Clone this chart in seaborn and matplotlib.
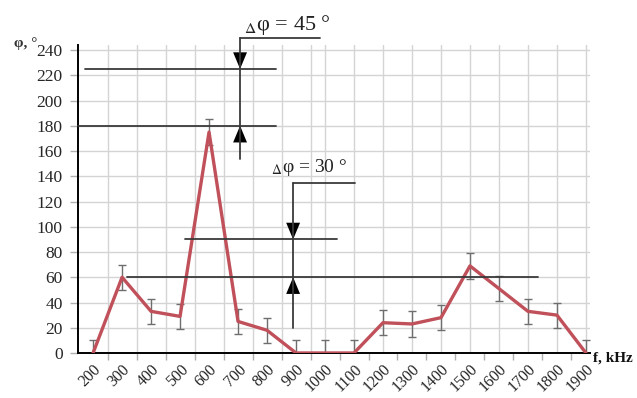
import matplotlib
matplotlib.use("Agg")
import matplotlib.pyplot as plt
import seaborn as sns
import pandas as pd

# Phase response vs frequency
freq_khz = [200, 300, 400, 500, 600, 700, 800, 900, 1000, 1100,
            1200, 1300, 1400, 1500, 1600, 1700, 1800, 1900]
phase_deg = [0, 60, 33, 29, 175, 25, 18, 0, 0, 0,
             24, 23, 28, 69, 51, 33, 30, 0]
phase_err = [10, 10, 10, 10, 10, 10, 10, 10, 10, 10,
             10, 10, 10, 10, 10, 10, 10, 10]
y_ticks = [0, 20, 40, 60, 80, 100, 120, 140, 160, 180, 200, 220, 240]

# Phase-shift reference levels
shift_45_levels = [180, 225]
shift_30_levels = [60, 90]

df = pd.DataFrame({"f": freq_khz, "phi": phase_deg, "err": phase_err})

sns.set_theme(style="white")
plt.rcParams["font.family"] = ["Liberation Serif", "DejaVu Serif"]
plt.rcParams["mathtext.fontset"] = "stix"

fig = plt.figure(figsize=(6.37, 3.98), dpi=100)
ax = fig.add_axes([78 / 637, 45 / 398, 512 / 637, 308 / 398])

ax.set_xlim(148, 1914)
ax.set_ylim(0, 244)

# light background grid
grid_kw = dict(color="#d4d4d4", lw=1.0, zorder=0)
for yv in y_ticks[1:]:
    ax.axhline(yv, **grid_kw)
for xv in list(range(250, 1000, 100)) + list(range(1000, 2000, 100)):
    ax.axvline(xv, **grid_kw)

# measured curve and its error bars
ax.errorbar(df["f"], df["phi"], yerr=df["err"], fmt="none",
            ecolor="#6e6e6e", elinewidth=1.0, capsize=3, capthick=1.0, zorder=2)
sns.lineplot(data=df, x="f", y="phi", color="#c0505a", lw=2.4,
             ax=ax, zorder=3)

# level lines for the 45 degree shift
line_kw = dict(color="#3a3a3a", lw=1.3, zorder=4, clip_on=False)
ax.plot([148, 831], [shift_45_levels[0]] * 2, **line_kw)
ax.plot([172, 831], [shift_45_levels[1]] * 2, **line_kw)
ax.plot([707, 707], [154, 249.5], **line_kw)
ax.plot([707, 983], [249.5, 249.5], **line_kw)
arr_kw = dict(arrowstyle="-|>,head_length=1.2,head_width=0.5",
              color="black", lw=0, mutation_scale=10, shrinkA=0, shrinkB=0)
ax.annotate("", xy=(707, shift_45_levels[1]), xytext=(707, 240),
            arrowprops=arr_kw, annotation_clip=False)
ax.annotate("", xy=(707, shift_45_levels[0]), xytext=(707, 165),
            arrowprops=arr_kw, annotation_clip=False)
ax.text(722, 256, r"$_\Delta$φ = 45 °", fontsize=16, ha="left",
        va="baseline", color="#222222", clip_on=False)

# level lines for the 30 degree shift
ax.plot([317, 1734], [shift_30_levels[0]] * 2, **line_kw)
ax.plot([517, 1041], [shift_30_levels[1]] * 2, **line_kw)
ax.plot([890, 890], [20, 135], **line_kw)
ax.plot([890, 1103], [135, 135], **line_kw)
ax.annotate("", xy=(890, shift_30_levels[1]), xytext=(890, 105),
            arrowprops=arr_kw, annotation_clip=False)
ax.annotate("", xy=(890, shift_30_levels[0]), xytext=(890, 45),
            arrowprops=arr_kw, annotation_clip=False)
ax.text(815, 143, r"$_\Delta$φ = 30 °", fontsize=14, ha="left",
        va="baseline", color="#222222")

# axes styling
for side in ("top", "right"):
    ax.spines[side].set_visible(False)
for side in ("left", "bottom"):
    ax.spines[side].set_color("black")
    ax.spines[side].set_linewidth(1.4)

ax.set_yticks(y_ticks)
ax.set_yticklabels([str(v) for v in y_ticks], fontsize=12.5)
ax.tick_params(axis="y", direction="out", length=6, width=1,
               color="#b0b0b0", pad=5, left=True)

ax.set_xticks(freq_khz)
ax.set_xticklabels([str(v) for v in freq_khz], fontsize=11.5,
                   rotation=45, ha="right", rotation_mode="anchor")
ax.set_xticks(list(range(250, 1900, 100)), minor=True)
ax.tick_params(axis="x", which="major", length=0, pad=6)
ax.tick_params(axis="x", which="minor", direction="out", length=5,
               width=1, color="#b0b0b0", bottom=True)
ax.set_xlabel("")
ax.set_ylabel("")

fig.text(14 / 637, 1 - 44 / 398, "φ, °", fontsize=11, fontweight="bold",
         ha="left", va="center", color="#333333")
fig.text(593 / 637, 1 - 358 / 398, "f, kHz", fontsize=11, fontweight="bold",
         ha="left", va="center", color="#111111")

fig.savefig("out.png", dpi=100)
